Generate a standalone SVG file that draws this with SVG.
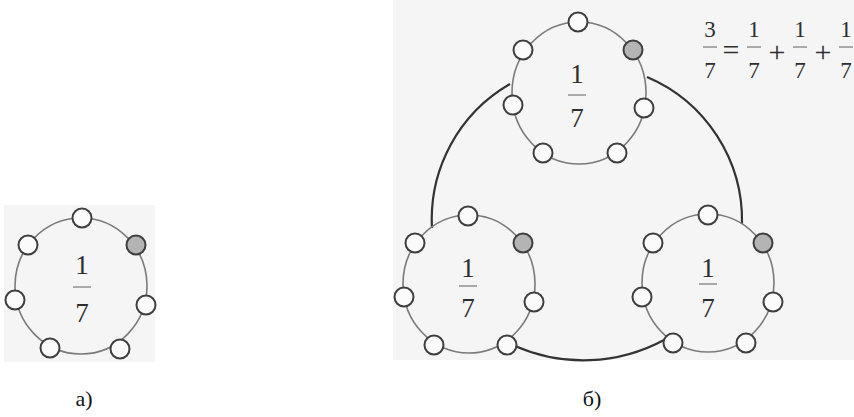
<svg xmlns="http://www.w3.org/2000/svg" width="854" height="417" viewBox="0 0 854 417">
<defs>
<style>
.bg{fill:#f5f5f5}
.ring{fill:none;stroke:#7a7a7a;stroke-width:1.6}
.dot{fill:#fbfbfb;stroke:#3e3e3e;stroke-width:2}
.dot.on{fill:#b4b4b4}
.num{font-family:"Liberation Serif","Times New Roman",serif;fill:#2e2e2e;text-anchor:middle}
.big{font-size:27px}
.eq{font-size:23px}
.op{font-size:30px}
.bar{stroke:#8a8a8a;stroke-width:1.4}
.link{fill:none;stroke:#333;stroke-width:2.2}
.lbl{font-family:"Liberation Serif","Times New Roman",serif;font-size:22px;fill:#111;text-anchor:middle}
</style>
</defs>
<rect width="854" height="417" fill="#ffffff"/>
<rect class="bg" x="4" y="205" width="151" height="157"/>
<rect class="bg" x="393" y="0" width="461" height="360"/>

<g id="connectors">
<path class="link" d="M432,228 A156,156 0 0 1 510,84"/>
<path class="link" d="M647,77 A156,156 0 0 1 742,224"/>
<path class="link" d="M515,346 A170,170 0 0 0 664,340"/>
</g>

<g id="cluster-a">
<ellipse class="ring" cx="81" cy="286" rx="66" ry="68"/>
<circle class="dot" cx="82" cy="218" r="9.5"/>
<circle class="dot" cx="28" cy="245" r="9.5"/>
<circle class="dot on" cx="136" cy="245" r="9.5"/>
<circle class="dot" cx="15" cy="300" r="9.5"/>
<circle class="dot" cx="146" cy="305" r="9.5"/>
<circle class="dot" cx="50" cy="348" r="9.5"/>
<circle class="dot" cx="120" cy="349" r="9.5"/>
<text class="num big" x="82" y="274">1</text>
<line class="bar" x1="73" y1="287" x2="91" y2="287"/>
<text class="num big" x="82" y="322">7</text>
</g>

<g id="cluster-top">
<ellipse class="ring" cx="579" cy="93" rx="67" ry="71"/>
<circle class="dot" cx="578" cy="22" r="9.5"/>
<circle class="dot" cx="523" cy="50" r="9.5"/>
<circle class="dot on" cx="633" cy="50" r="9.5"/>
<circle class="dot" cx="513" cy="105" r="9.5"/>
<circle class="dot" cx="644" cy="108" r="9.5"/>
<circle class="dot" cx="543" cy="153" r="9.5"/>
<circle class="dot" cx="617" cy="153" r="9.5"/>
<text class="num big" x="577" y="83">1</text>
<line class="bar" x1="568" y1="95" x2="586" y2="95"/>
<text class="num big" x="577" y="127">7</text>
</g>

<g id="cluster-left">
<ellipse class="ring" cx="469" cy="284" rx="66" ry="69"/>
<circle class="dot" cx="468" cy="216" r="9.5"/>
<circle class="dot" cx="415" cy="243" r="9.5"/>
<circle class="dot on" cx="523" cy="243" r="9.5"/>
<circle class="dot" cx="404" cy="297" r="9.5"/>
<circle class="dot" cx="534" cy="302" r="9.5"/>
<circle class="dot" cx="434" cy="345" r="9.5"/>
<circle class="dot" cx="507" cy="345" r="9.5"/>
<text class="num big" x="468" y="277">1</text>
<line class="bar" x1="459" y1="286" x2="477" y2="286"/>
<text class="num big" x="468" y="317">7</text>
</g>

<g id="cluster-right">
<ellipse class="ring" cx="708" cy="283" rx="66" ry="69"/>
<circle class="dot" cx="708" cy="215" r="9.5"/>
<circle class="dot" cx="653" cy="243" r="9.5"/>
<circle class="dot on" cx="763" cy="243" r="9.5"/>
<circle class="dot" cx="642" cy="297" r="9.5"/>
<circle class="dot" cx="773" cy="302" r="9.5"/>
<circle class="dot" cx="673" cy="343" r="9.5"/>
<circle class="dot" cx="746" cy="343" r="9.5"/>
<text class="num big" x="708" y="277">1</text>
<line class="bar" x1="699" y1="284" x2="717" y2="284"/>
<text class="num big" x="708" y="317">7</text>
</g>

<g id="equation">
<text class="num eq" x="710" y="37">3</text>
<line class="bar" x1="703" y1="47" x2="717" y2="47"/>
<text class="num eq" x="710" y="78">7</text>
<text class="num op" x="731" y="60">=</text>
<text class="num eq" x="754" y="37">1</text>
<line class="bar" x1="747" y1="47" x2="761" y2="47"/>
<text class="num eq" x="754" y="78">7</text>
<text class="num op" x="777" y="62">+</text>
<text class="num eq" x="800" y="37">1</text>
<line class="bar" x1="793" y1="47" x2="807" y2="47"/>
<text class="num eq" x="800" y="78">7</text>
<text class="num op" x="823" y="62">+</text>
<text class="num eq" x="846" y="37">1</text>
<line class="bar" x1="839" y1="47" x2="853" y2="47"/>
<text class="num eq" x="846" y="78">7</text>
</g>

<g id="labels">
<text class="lbl" x="84" y="406">а)</text>
<text class="lbl" x="592" y="406">б)</text>
</g>
</svg>
